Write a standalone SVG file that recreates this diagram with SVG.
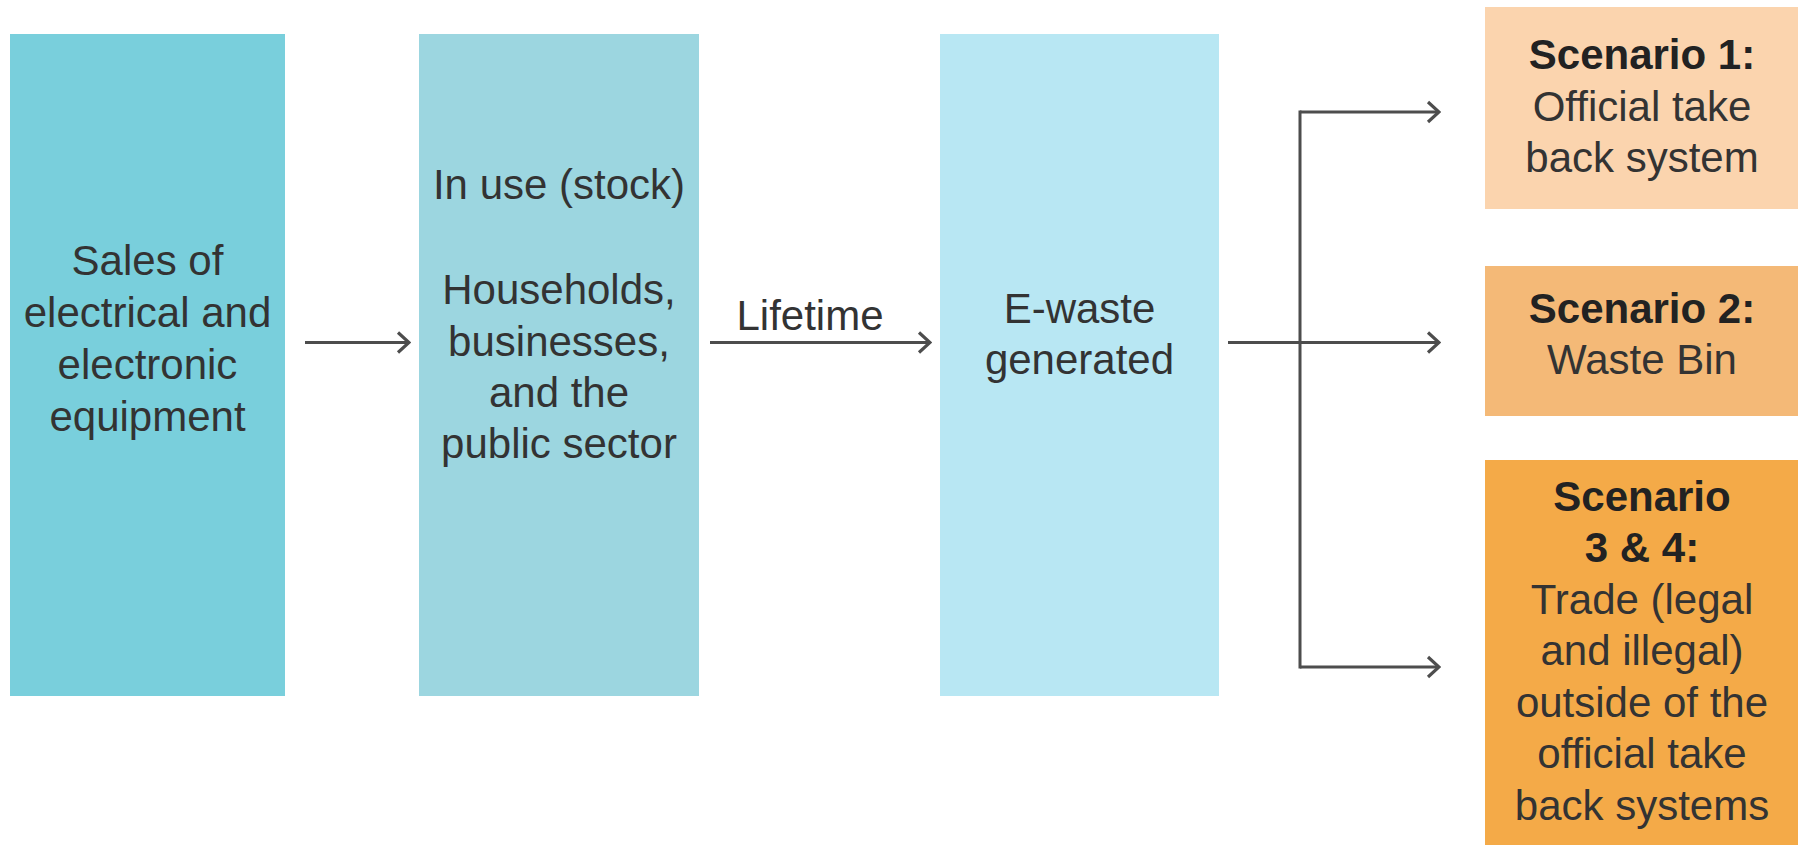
<svg xmlns="http://www.w3.org/2000/svg" width="1802" height="845" viewBox="0 0 1802 845">
<defs>
<style>
.t{font-family:"Liberation Sans",Arial,Helvetica,sans-serif;font-size:42px;fill:#333333;text-anchor:middle}
.b{font-weight:bold;fill:#222222}
.ln{fill:none;stroke:#4d4d4d;stroke-width:3}
</style>
<marker id="ah" markerUnits="userSpaceOnUse" viewBox="-14 -12 16 24" refX="0" refY="0" markerWidth="16" markerHeight="24" orient="auto">
<path d="M-11,-10 L0,0 L-11,10" fill="none" stroke="#4d4d4d" stroke-width="3.2"/>
</marker>
</defs>
<rect width="1802" height="845" fill="#ffffff"/>
<g id="sales">
<rect x="10" y="34" width="275" height="662" fill="#79CFDC"/>
<text class="t" x="147.5" y="275">Sales of</text>
<text class="t" x="147.5" y="327">electrical and</text>
<text class="t" x="147.5" y="379">electronic</text>
<text class="t" x="147.5" y="431">equipment</text>
</g>
<g id="inuse">
<rect x="419" y="34" width="280" height="662" fill="#9CD6E0"/>
<text class="t" x="559" y="199">In use (stock)</text>
<text class="t" x="559" y="304">Households,</text>
<text class="t" x="559" y="355.5">businesses,</text>
<text class="t" x="559" y="407">and the</text>
<text class="t" x="559" y="458">public sector</text>
</g>
<g id="ewaste">
<rect x="940" y="34" width="279" height="662" fill="#B8E7F3"/>
<text class="t" x="1079.5" y="323">E-waste</text>
<text class="t" x="1079.5" y="374">generated</text>
</g>
<g id="scenario1">
<rect x="1485" y="7" width="313" height="202" fill="#FBD4AE"/>
<text class="t b" x="1642" y="69">Scenario 1:</text>
<text class="t" x="1642" y="120.5">Official take</text>
<text class="t" x="1642" y="172">back system</text>
</g>
<g id="scenario2">
<rect x="1485" y="266" width="313" height="150" fill="#F4B977"/>
<text class="t b" x="1642" y="323">Scenario 2:</text>
<text class="t" x="1642" y="374">Waste Bin</text>
</g>
<g id="scenario34">
<rect x="1485" y="460" width="313" height="390" fill="#F4AA48"/>
<text class="t b" x="1642" y="510.5">Scenario</text>
<text class="t b" x="1642" y="562">3 &amp; 4:</text>
<text class="t" x="1642" y="613.5">Trade (legal</text>
<text class="t" x="1642" y="665">and illegal)</text>
<text class="t" x="1642" y="716.5">outside of the</text>
<text class="t" x="1642" y="768">official take</text>
<text class="t" x="1642" y="819.5">back systems</text>
</g>
<g id="connectors">
<line class="ln" x1="305" y1="342.5" x2="409" y2="342.5" marker-end="url(#ah)"/>
<line class="ln" x1="710" y1="342.5" x2="930" y2="342.5" marker-end="url(#ah)"/>
<text class="t" x="810" y="330">Lifetime</text>
<line class="ln" x1="1228" y1="342.5" x2="1439" y2="342.5" marker-end="url(#ah)"/>
<line class="ln" x1="1300" y1="110.5" x2="1300" y2="668.5"/>
<line class="ln" x1="1300" y1="112" x2="1439" y2="112" marker-end="url(#ah)"/>
<line class="ln" x1="1300" y1="667" x2="1439" y2="667" marker-end="url(#ah)"/>
</g>
</svg>
